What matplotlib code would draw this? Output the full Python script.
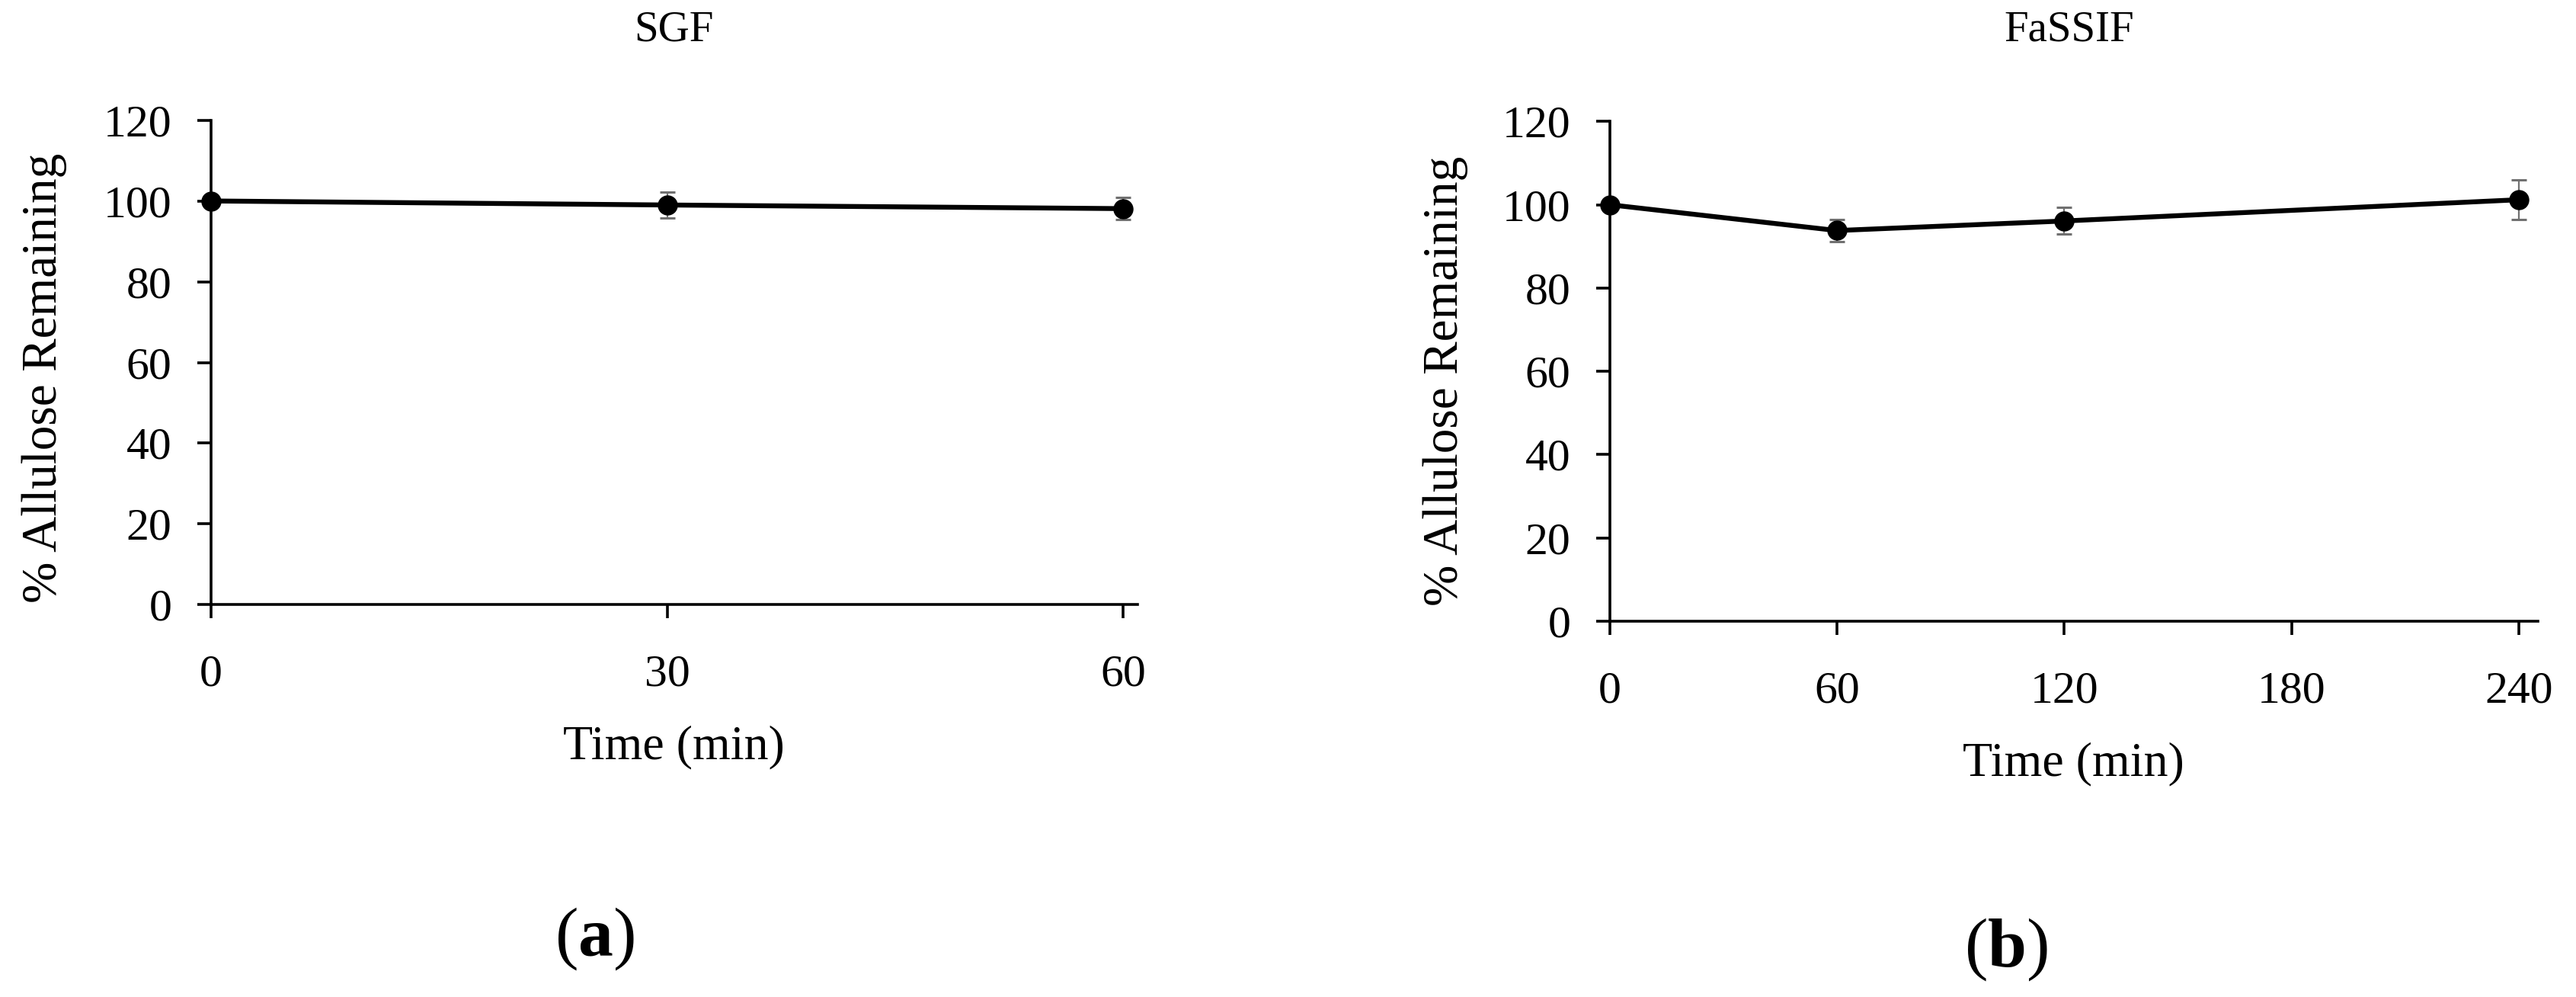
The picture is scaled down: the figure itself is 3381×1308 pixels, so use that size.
import numpy as np
import matplotlib
matplotlib.use('Agg')
import matplotlib.pyplot as plt

plt.rcParams['font.family'] = ['Liberation Serif', 'DejaVu Serif']
plt.rcParams['mathtext.fontset'] = 'custom'
plt.rcParams['mathtext.rm'] = 'Liberation Serif'
plt.rcParams['mathtext.bf'] = 'Liberation Serif:bold'

# --- data ---
sgf_time = [0, 30, 60]
sgf_remaining = [100.0, 99.0, 98.1]
sgf_err = [0.0, 3.2, 2.7]

fassif_time = [0, 60, 120, 240]
fassif_remaining = [100.0, 93.8, 96.1, 101.2]
fassif_err = [0.0, 2.6, 3.2, 4.7]

sgf_xticks = [0, 30, 60]
fassif_xticks = [0, 60, 120, 180, 240]
yticks = [0, 20, 40, 60, 80, 100, 120]

W, H = 3381, 1308
fig = plt.figure(figsize=(W / 100, H / 100), dpi=100)

# axes boxes in pixels: left, right, bottom(y=0), top(y=120)
ax_a = fig.add_axes([276.7 / W, 1 - 793.3 / H, (1492.7 - 276.7) / W, (793.3 - 157.7) / H])
ax_b = fig.add_axes([2112.7 / W, 1 - 815 / H, (3331 - 2112.7) / W, (815 - 159.3) / H])


def style_panel(ax, t, y, err, xticks, xmax):
    ax.errorbar(t, y, yerr=err, fmt='none', ecolor='#707070', elinewidth=1.6,
                capsize=7, capthick=2.2, zorder=2)
    ax.plot(t, y, color='black', lw=4.6, marker='o', ms=18, zorder=3, clip_on=False)
    ax.set_xlim(0, xmax)
    ax.set_ylim(0, 120)
    ax.set_xticks(xticks)
    ax.set_yticks(yticks)
    for s in ['top', 'right']:
        ax.spines[s].set_visible(False)
    for s in ['left', 'bottom']:
        ax.spines[s].set_linewidth(2.6)
    ax.tick_params(axis='both', direction='out', length=13, width=2.6, labelsize=43)
    ax.tick_params(axis='x', pad=34)
    ax.tick_params(axis='y', pad=24)
    ax.set_xlabel('Time (min)', fontsize=46, labelpad=28)


style_panel(ax_a, sgf_time, sgf_remaining, sgf_err, sgf_xticks, 60.92)
style_panel(ax_b, fassif_time, fassif_remaining, fassif_err, fassif_xticks, 245.0)

# titles
fig.text(884 / W, 1 - 39 / H, 'SGF', fontsize=41, ha='center', va='center')
fig.text(2716 / W, 1 - 39 / H, 'FaSSIF', fontsize=41, ha='center', va='center')

# y labels
fig.text(58 / W, 1 - 496 / H, '% Allulose Remaining', fontsize=47, rotation=90,
         ha='center', va='center')
fig.text(1897 / W, 1 - 500 / H, '% Allulose Remaining', fontsize=47, rotation=90,
         ha='center', va='center')

# panel letters
fig.text(780 / W, 1 - 1232 / H, r'($\mathbf{a}$)', fontsize=66, ha='center', va='center')
fig.text(2633 / W, 1 - 1246 / H, r'($\mathbf{b}$)', fontsize=66, ha='center', va='center')

fig.savefig('out.png', dpi=100)
